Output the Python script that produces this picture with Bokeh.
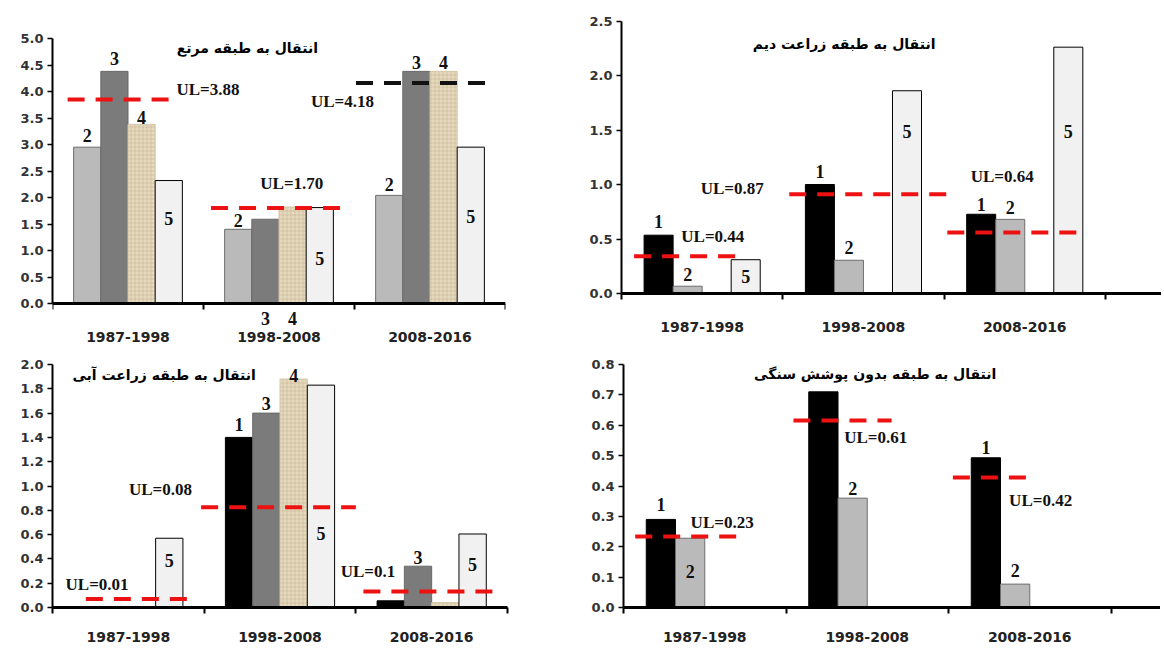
from bokeh.plotting import figure
from bokeh.layouts import row, column
from bokeh.models import FixedTicker, Range1d, Label, ColumnDataSource, PrintfTickFormatter
from bokeh.embed import file_html
from bokeh.resources import INLINE

# ---------------- data ----------------
periods = ["1987-1998", "1998-2008", "2008-2016"]

# Panel A: transfer to rangeland
a_title = "انتقال به طبقه مرتع"
a_s2 = [2.95, 1.40, 2.04]
a_s3 = [4.38, 1.59, 4.38]
a_s4 = [3.38, 1.82, 4.38]
a_s5 = [2.32, 1.81, 2.95]
a_ul_text = ["3.88", "1.70", "4.18"]
a_ul_level = [3.85, 1.80, 4.16]

# Panel B: transfer to dry farming
b_title = "انتقال به طبقه زراعت دیم"
b_s1 = [0.535, 1.00, 0.727]
b_s2 = [0.067, 0.305, 0.68]
b_s5 = [0.31, 1.86, 2.26]
b_ul_text = ["0.44", "0.87", "0.64"]
b_ul_level = [0.342, 0.91, 0.56]

# Panel C: transfer to irrigated farming
c_title = "انتقال به طبقه زراعت آبی"
c_s1 = [0.0, 1.40, 0.055]
c_s3 = [0.0, 1.60, 0.34]
c_s4 = [0.0, 1.88, 0.04]
c_s5 = [0.57, 1.83, 0.605]
c_ul_text = ["0.01", "0.08", "0.1"]
c_ul_level = [0.07, 0.825, 0.132]

# Panel D: transfer to bare rock
d_title = "انتقال به طبقه بدون پوشش سنگی"
d_s1 = [0.29, 0.71, 0.493]
d_s2 = [0.228, 0.36, 0.077]
d_ul_text = ["0.23", "0.61", "0.42"]
d_ul_level = [0.234, 0.616, 0.428]

# ---------------- styles / layout ----------------
W = 0.18
STYLE = {
    1: dict(fill_color="#000000", line_color="#000000"),
    2: dict(fill_color="#bababa", line_color="#6e6e6e"),
    3: dict(fill_color="#7b7b7b", line_color="#6a6a6a"),
    4: dict(fill_color="#e6d9bd", line_color="#d5c7aa", hatch_pattern="+",
            hatch_color="#b09d7a", hatch_scale=4, hatch_weight=0.6, hatch_alpha=0.55),
    5: dict(fill_color="#f1f1f1", line_color="#000000"),
}
SANS = "DejaVu Sans"
SERIF = "Liberation Serif"


def slot_x(cat, slot):
    return cat + 0.5 + (slot - 1.5) * W


def make_panel(series, slots, y_top, y_step, y_lo, y_hi, x_end, ul_text, ul_level, ul_span,
               ul_colors, ul_label_pos, bar_labels, title, title_pos, geom, standoff, fixed=False):
    bl, fw, br, bt, fh, bb = geom
    p = figure(frame_width=fw, frame_height=fh, min_border_left=bl, min_border_right=br,
               min_border_top=bt, min_border_bottom=bb, output_backend="svg",
               toolbar_location=None, x_range=Range1d(0, x_end), y_range=Range1d(y_lo, y_hi))
    p.outline_line_color = None
    p.grid.visible = False
    p.background_fill_color = "white"
    p.border_fill_color = "white"

    for sid, vals in series.items():
        xs, tops = [], []
        for i, v in enumerate(vals):
            if v > 0:
                xs.append(slot_x(i, slots[sid]))
                tops.append(v)
        p.vbar(x=xs, top=tops, bottom=0, width=W, line_width=1, **STYLE[sid])

    src = ColumnDataSource(dict(
        x0=[s[0] for s in ul_span], x1=[s[1] for s in ul_span],
        y=ul_level, c=ul_colors))
    p.segment(x0="x0", x1="x1", y0="y", y1="y", line_color="c", line_width=4,
              line_dash="17 11", source=src)

    for (lx, ly), t in zip(ul_label_pos, ul_text):
        p.add_layout(Label(x=lx, y=ly, text="UL=" + t, text_align="center",
                           text_baseline="middle", text_font=SERIF, text_font_style="bold",
                           text_font_size="17px", text_color="#111111"))
    for sid, cat, ly in bar_labels:
        p.add_layout(Label(x=slot_x(cat, slots[sid]), y=ly, text=str(sid), text_align="center",
                           text_baseline="middle", text_font=SERIF, text_font_style="bold",
                           text_font_size="18px", text_color="#111111"))
    p.add_layout(Label(x=title_pos[0], y=title_pos[1], text=title, text_align="center",
                       text_baseline="middle", text_font=SANS, text_font_style="bold",
                       text_font_size="14px", text_color="#000000"))

    # x axis
    xa = p.xaxis[0]
    xa.ticker = FixedTicker(ticks=[0.5, 1.5, 2.5], minor_ticks=[0, 1, 2, 3])
    xa.major_label_overrides = {0.5: periods[0], 1.5: periods[1], 2.5: periods[2]}
    xa.major_tick_line_color = None
    xa.major_tick_out = 0
    xa.minor_tick_out = 6
    xa.minor_tick_in = 0
    xa.minor_tick_line_width = 2
    xa.minor_tick_line_color = "black"
    xa.axis_line_width = 3
    xa.axis_line_color = "black"
    xa.major_label_standoff = standoff
    xa.major_label_text_font = SANS
    xa.major_label_text_font_style = "bold"
    xa.major_label_text_font_size = "14px"
    xa.major_label_text_color = "#222222"
    if fixed:
        xa.fixed_location = 0

    ya = p.yaxis[0]
    n = int(round(y_top / y_step))
    ya.ticker = FixedTicker(ticks=[round(k * y_step, 3) for k in range(n + 1)], minor_ticks=[])
    ya.bounds = (0, y_top)
    ya.formatter = PrintfTickFormatter(format="%.1f")
    ya.major_tick_out = 5
    ya.major_tick_in = 0
    ya.major_tick_line_width = 1.5
    ya.axis_line_width = 2
    ya.axis_line_color = "black"
    ya.major_label_standoff = 4
    ya.major_label_text_font = SANS
    ya.major_label_text_font_style = "bold"
    ya.major_label_text_font_size = "13px"
    ya.major_label_text_color = "#333333"
    return p


# top-left: frame from y=20 to y=348 (axis fixed at value 0 at y=303)
pA = make_panel(
    {2: a_s2, 3: a_s3, 4: a_s4, 5: a_s5}, {2: 0, 3: 1, 4: 2, 5: 3},
    5.0, 0.5, -45 / 53, 283 / 53, 3.0, a_ul_text, a_ul_level,
    [(0.10, 0.80), (1.05, 1.94), (2.01, 2.87)], ["#ee1111", "#ee1111", "#111111"],
    [(1.03, 4.04), (1.585, 2.26), (1.92, 3.81)],
    [(2, 0, 3.17), (3, 0, 4.62), (4, 0, 3.51), (5, 0, 1.60),
     (2, 1, 1.57), (3, 1, -0.29), (4, 1, -0.29), (5, 1, 0.85),
     (2, 2, 2.25), (3, 2, 4.55), (4, 2, 4.55), (5, 2, 1.64)],
    a_title, (1.29, 4.83), (52, 453, 78, 20, 328, 0), 22, fixed=True)

pB = make_panel(
    {1: b_s1, 2: b_s2, 5: b_s5}, {1: 0, 2: 1, 5: 3},
    2.5, 0.5, 0.0, 273 / 109, 540 / 161.3, b_ul_text, b_ul_level,
    [(0.078, 0.76), (1.04, 2.02), (2.02, 2.88)], ["#ee1111"] * 3,
    [(0.566, 0.52), (0.686, 0.963), (2.36, 1.076)],
    [(1, 0, 0.657), (2, 0, 0.177), (5, 0, 0.152),
     (1, 1, 1.116), (2, 1, 0.42), (5, 1, 1.49),
     (1, 2, 0.82), (2, 2, 0.79), (5, 2, 1.49)],
    b_title, (1.38, 2.29), (38, 540, 0, 20, 273, 55), 22)

pC = make_panel(
    {1: c_s1, 3: c_s3, 4: c_s4, 5: c_s5}, {1: 0, 3: 1, 4: 2, 5: 3},
    2.0, 0.2, 0.0, 2.0, 3.0, c_ul_text, c_ul_level,
    [(0.22, 0.93), (0.98, 2.0), (2.05, 2.91)], ["#ee1111"] * 3,
    [(0.294, 0.187), (0.712, 0.969), (2.08, 0.297)],
    [(5, 0, 0.385),
     (1, 1, 1.505), (3, 1, 1.683), (4, 1, 1.91), (5, 1, 0.606),
     (3, 2, 0.413), (5, 2, 0.358)],
    c_title, (0.736, 1.91), (52, 455, 76, 16, 243, 43), 18)

pD = make_panel(
    {1: d_s1, 2: d_s2}, {1: 0, 2: 1},
    0.8, 0.1, 0.0, 0.8, 537 / 162.5, d_ul_text, d_ul_level,
    [(0.072, 0.74), (1.046, 1.65), (2.027, 2.51)], ["#ee1111"] * 3,
    [(0.607, 0.28), (1.552, 0.561), (2.567, 0.353)],
    [(1, 0, 0.338), (2, 0, 0.118), (2, 1, 0.393), (1, 2, 0.526), (2, 2, 0.121)],
    d_title, (1.549, 0.768), (40, 537, 0, 16, 243, 43), 18)

layout = column(row(pA, pB), row(pC, pD))
open("out.html", "w").write(file_html(layout, INLINE))
